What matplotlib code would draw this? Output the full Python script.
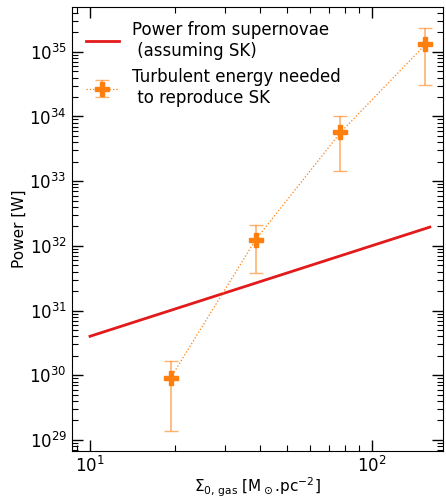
import matplotlib

matplotlib.use("Agg")
import matplotlib.pyplot as plt  # noqa: E402
from matplotlib.ticker import NullFormatter  # noqa: E402

# supernova power line (two ends, straight in log-log)
sn_x = [10.0, 160.0]
sn_power = [4.0e30, 1.95e32]

# turbulent energy points
sigma_gas = [19.3, 38.6, 77.2, 154.4]
turb_power = [9.1e29, 1.24e32, 5.66e33, 1.3e35]
turb_hi = [1.67e30, 2.1e32, 1.0e34, 2.3e35]
turb_lo = [1.39e29, 3.74e31, 1.42e33, 3.06e34]

ORANGE = "#ff7f0e"
RED = "#e31a1c"

fig = plt.figure(figsize=(4.46, 4.99), dpi=100)
ax = fig.add_axes([0.162, 0.097, 0.831, 0.888])

ax.plot(sn_x, sn_power, color=RED, lw=2, label="Power from supernovae\n (assuming SK)")

yerr = [[p - l for p, l in zip(turb_power, turb_lo)],
        [h - p for p, h in zip(turb_power, turb_hi)]]
eb = ax.errorbar(sigma_gas, turb_power, yerr=yerr, fmt="P", ls=":", lw=0.9,
                 color=ORANGE, ms=10, ecolor=ORANGE, elinewidth=1.2, capsize=5,
                 label="Turbulent energy needed\n to reproduce SK")
for c in eb[1]:
    c.set_alpha(0.6)
for c in eb[2]:
    c.set_alpha(0.6)

ax.set_xscale("log"); ax.set_yscale("log")
ax.set_xlim(8.65, 178)
ax.set_ylim(10**28.835, 10**35.685)
ax.xaxis.set_minor_formatter(NullFormatter())
ax.yaxis.set_minor_formatter(NullFormatter())

ax.tick_params(which="both", direction="in", top=True, right=True, labelsize=12)
ax.tick_params(which="major", length=8, width=1, pad=4)
ax.tick_params(which="minor", length=4, width=0.8)

ax.set_xlabel(r"$\Sigma_{0,\,\rm gas}$ [M$_\odot$.pc$^{-2}$]", fontsize=11, labelpad=-0.5)
ax.set_ylabel("Power [W]", fontsize=11, labelpad=2)

ax.legend(loc="upper left", frameon=False, fontsize=12, handlelength=2.0,
          borderaxespad=0.4)

fig.savefig("out.png", dpi=100)
